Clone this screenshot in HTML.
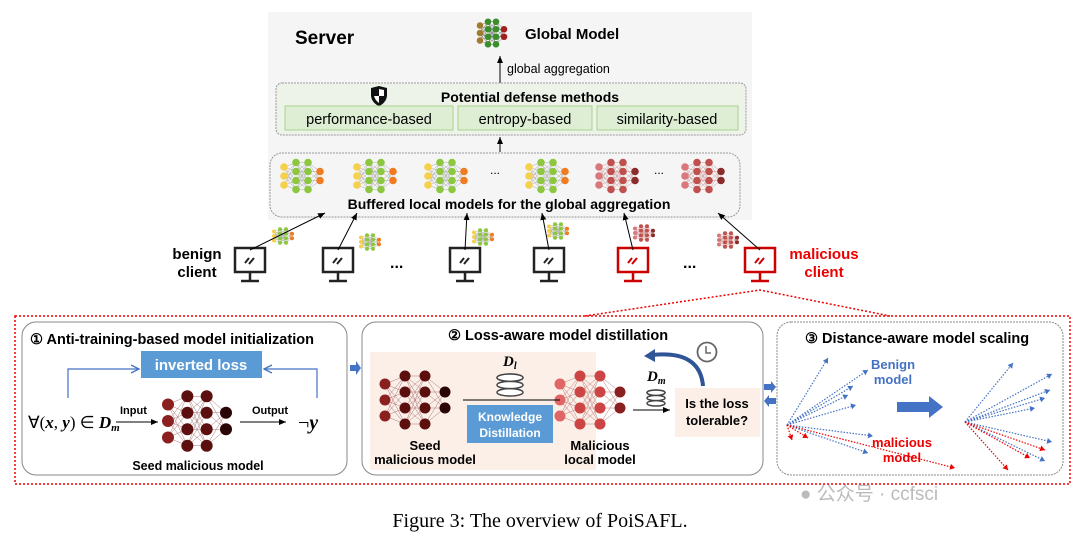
<!DOCTYPE html>
<html><head><meta charset="utf-8"><style>
body{margin:0;background:#fff;width:1080px;height:535px;overflow:hidden}
</style></head><body>
<svg id="s" width="1080" height="535" viewBox="0 0 1080 535" xmlns="http://www.w3.org/2000/svg" font-family="Liberation Sans, sans-serif">
<defs>
<marker id="ak" markerWidth="8" markerHeight="8" refX="7" refY="4" orient="auto" markerUnits="userSpaceOnUse"><path d="M0,1 L7,4 L0,7z" fill="#000"/></marker>
<marker id="ab" markerWidth="10" markerHeight="10" refX="8" refY="5" orient="auto" markerUnits="userSpaceOnUse"><path d="M0,1 L8,5 L0,9" fill="none" stroke="#4472c4" stroke-width="1.3"/></marker>
<marker id="abl" markerWidth="6" markerHeight="6" refX="5" refY="3" orient="auto" markerUnits="userSpaceOnUse"><path d="M0,0 L5,3 L0,6z" fill="#4472c4"/></marker>
<marker id="ar" markerWidth="6" markerHeight="6" refX="5" refY="3" orient="auto" markerUnits="userSpaceOnUse"><path d="M0,0 L5,3 L0,6z" fill="#e00"/></marker>
</defs>
<rect x="268" y="12" width="484" height="208" fill="#f5f5f5"/>
<text x="295" y="44" font-size="19" font-weight="bold">Server</text>
<g id="gm"></g>
<text x="525" y="39" font-size="15" font-weight="bold">Global Model</text>
<line x1="500" y1="88" x2="500" y2="56" stroke="#000" marker-end="url(#ak)"/>
<text x="507" y="73" font-size="12.5">global aggregation</text>
<rect x="276" y="83" width="470" height="52" rx="6" fill="#eef3ea" stroke="#999" stroke-dasharray="2,1"/>
<path d="M371,88 L379,86 L387,88 L387,96 Q386,103 379,106 Q372,103 371,96z" fill="#111"/>
<path d="M379,89 L384,90 L384,96 L379,96z M374,96 L379,96 L379,103 Q375,100 374,96z" fill="#fff"/>
<text x="530" y="102" font-size="14" font-weight="bold" text-anchor="middle">Potential defense methods</text>
<rect x="285" y="106" width="168" height="24" fill="#ddeed4" stroke="#a9d18e"/>
<rect x="458" y="106" width="134" height="24" fill="#ddeed4" stroke="#a9d18e"/>
<rect x="597" y="106" width="141" height="24" fill="#ddeed4" stroke="#a9d18e"/>
<text x="369" y="124" font-size="14.5" text-anchor="middle">performance-based</text>
<text x="525" y="124" font-size="14.5" text-anchor="middle">entropy-based</text>
<text x="667" y="124" font-size="14.5" text-anchor="middle">similarity-based</text>
<line x1="500" y1="152" x2="500" y2="137" stroke="#000" marker-end="url(#ak)"/>
<rect x="270" y="153" width="470" height="64" rx="12" fill="#f5f5f5" stroke="#999" stroke-dasharray="2,1"/>
<g id="buf"></g>
<text x="490" y="174" font-size="12">...</text>
<text x="654" y="174" font-size="12">...</text>
<text x="509" y="209" font-size="14" font-weight="bold" text-anchor="middle">Buffered local models for the global aggregation</text>
<g id="cl"></g>
<text x="197" y="259" font-size="15" font-weight="bold" text-anchor="middle">benign</text>
<text x="197" y="277" font-size="15" font-weight="bold" text-anchor="middle">client</text>
<text x="824" y="259" font-size="15" font-weight="bold" fill="#e00" text-anchor="middle">malicious</text>
<text x="824" y="277" font-size="15" font-weight="bold" fill="#e00" text-anchor="middle">client</text>
<text x="390" y="268" font-size="16" font-weight="bold">...</text>
<text x="683" y="268" font-size="16" font-weight="bold">...</text>
<polyline points="585,316 760,290 890,316" fill="none" stroke="#e00" stroke-width="1.5" stroke-dasharray="2,2"/>
<rect x="15" y="316" width="1055" height="168" fill="none" stroke="#e00" stroke-width="1.5" stroke-dasharray="2,2"/>
<rect x="22" y="322" width="325" height="153" rx="14" fill="#fff" stroke="#888"/>
<text x="30" y="344" font-size="14.5" font-weight="bold">① Anti-training-based model initialization</text>
<rect x="141" y="351" width="121" height="27" fill="#5b9bd5"/>
<text x="201" y="370" font-size="15" font-weight="bold" fill="#fff" text-anchor="middle">inverted loss</text>
<polyline points="68,398 68,369 139,369" fill="none" stroke="#4472c4" stroke-width="1.2" marker-end="url(#ab)"/>
<polyline points="317,398 317,369 264,369" fill="none" stroke="#4472c4" stroke-width="1.2" marker-end="url(#ab)"/>
<text x="28" y="428" font-size="17" style="font-family:'Liberation Serif',serif">∀(<tspan font-style="italic" font-weight="bold">x</tspan>, <tspan font-style="italic" font-weight="bold">y</tspan>) ∈ <tspan font-weight="bold" font-style="italic">D<tspan font-size="11" dy="3">m</tspan></tspan></text>
<text x="120" y="414" font-size="11" font-weight="bold">Input</text>
<line x1="116" y1="422" x2="158" y2="422" stroke="#000" marker-end="url(#ak)"/>
<text x="252" y="414" font-size="11" font-weight="bold">Output</text>
<line x1="240" y1="422" x2="286" y2="422" stroke="#000" marker-end="url(#ak)"/>
<text x="298" y="429" font-size="20" style="font-family:'Liberation Serif',serif">¬<tspan font-style="italic" font-weight="bold">y</tspan></text>
<g id="nn1"></g>
<text x="198" y="470" font-size="12.5" font-weight="bold" text-anchor="middle">Seed malicious model</text>
<path d="M350,365 L356,365 L356,361 L361,368 L356,375 L356,371 L350,371z" fill="#4472c4"/>
<rect x="362" y="322" width="401" height="153" rx="14" fill="#fff" stroke="#888"/>
<text x="448" y="340" font-size="14.5" font-weight="bold">② Loss-aware model distillation</text>
<rect x="370" y="352" width="226" height="118" fill="#fcefe8"/>
<rect x="675" y="388" width="85" height="49" fill="#fcefe8"/>
<g id="nn2"></g>
<text x="425" y="450" font-size="13" font-weight="bold" text-anchor="middle">Seed</text>
<text x="425" y="464" font-size="13" font-weight="bold" text-anchor="middle">malicious model</text>
<text x="600" y="450" font-size="13" font-weight="bold" text-anchor="middle">Malicious</text>
<text x="600" y="464" font-size="13" font-weight="bold" text-anchor="middle">local model</text>
<text x="503" y="366" font-size="15" font-weight="bold" font-style="italic" style="font-family:'Liberation Serif',serif">D<tspan font-size="10" dy="3">l</tspan></text>
<g id="db1"></g>
<line x1="463" y1="400" x2="560" y2="400" stroke="#000"/>
<rect x="467" y="405" width="86" height="38" fill="#5b9bd5"/>
<text x="510" y="421" font-size="12" font-weight="bold" fill="#fff" text-anchor="middle">Knowledge</text>
<text x="510" y="437" font-size="12" font-weight="bold" fill="#fff" text-anchor="middle">Distillation</text>
<text x="647" y="381" font-size="15" font-weight="bold" font-style="italic" style="font-family:'Liberation Serif',serif">D<tspan font-size="10" dy="3">m</tspan></text>
<g id="db2"></g>
<line x1="633" y1="410" x2="670" y2="410" stroke="#000" marker-end="url(#ak)"/>
<text x="717" y="408" font-size="13" font-weight="bold" text-anchor="middle">Is the loss</text>
<text x="717" y="425" font-size="13" font-weight="bold" text-anchor="middle">tolerable?</text>
<path d="M703,386 Q700,350 652,355" fill="none" stroke="#2f5597" stroke-width="4"/>
<path d="M644,356 L655,349 L655,362z" fill="#2f5597"/>
<circle cx="707" cy="352" r="9.5" fill="#fff" stroke="#666" stroke-width="1.8"/>
<polyline points="706,346 706,353 711,353" fill="none" stroke="#666" stroke-width="1.5"/>
<path d="M764,384 L771,384 L771,381 L776,387 L771,393 L771,390 L764,390z" fill="#4472c4"/>
<path d="M776,398 L769,398 L769,395 L764,401 L769,407 L769,404 L776,404z" fill="#4472c4"/>
<rect x="777" y="322" width="286" height="153" rx="14" fill="#fff" stroke="#888" stroke-dasharray="2,1"/>
<text x="805" y="343" font-size="14.5" font-weight="bold">③ Distance-aware model scaling</text>
<g id="fan"></g>
<text x="893" y="369" font-size="13" font-weight="bold" fill="#4472c4" text-anchor="middle">Benign</text>
<text x="893" y="384" font-size="13" font-weight="bold" fill="#4472c4" text-anchor="middle">model</text>
<text x="902" y="447" font-size="13" font-weight="bold" fill="#e00" text-anchor="middle">malicious</text>
<text x="902" y="462" font-size="13" font-weight="bold" fill="#e00" text-anchor="middle">model</text>
<path d="M897,402 L929,402 L929,396 L943,407 L929,418 L929,412 L897,412z" fill="#4472c4"/>
<text x="800" y="500" font-size="19" fill="#bbb" style="font-family:'Liberation Sans','Noto Sans CJK SC',sans-serif">● 公众号 · ccfsci</text>
<text x="540" y="527" font-size="20" text-anchor="middle" style="font-family:'Liberation Serif',serif">Figure 3: The overview of PoiSAFL.</text>
</svg>
<script>
const NS="http://www.w3.org/2000/svg";
function el(p,t,a){const e=document.createElementNS(NS,t);for(const k in a)e.setAttribute(k,a[k]);document.getElementById(p).appendChild(e);return e;}
function nn(p,x,y,w,h,cols,r){
 const layers=[3,4,4,2],L=[];
 for(let i=0;i<4;i++){const n=layers[i],xs=x+w*i/3,pts=[];const sp=h/4;
  for(let j=0;j<n;j++)pts.push([xs,y+h/2+(j-(n-1)/2)*sp]);L.push(pts);}
 for(let i=0;i<3;i++)for(const a of L[i])for(const b of L[i+1])el(p,'line',{x1:a[0],y1:a[1],x2:b[0],y2:b[1],stroke:cols[4]||'#999','stroke-width':0.5});
 for(let i=0;i<4;i++)for(const q of L[i])el(p,'circle',{cx:q[0],cy:q[1],r:r,fill:cols[i]});
}
const G=['#f5d04a','#8dc63f','#8dc63f','#f07b20','#aaa'],R=['#d9787a','#c0504d','#c0504d','#8b2c2c','#c99'];
nn('gm',480,18,24,30,['#a07a30','#3a8f2b','#3a8f2b','#a02020','#777'],3.3);
[301,374,445,546].forEach(x=>nn('buf',x-17,158,36,36,G,3.8));
[616,702].forEach(x=>nn('buf',x-17,158,36,36,R,3.8));
[[283,236,G],[370,242,G],[483,237,G],[558,231,G],[644,233,R],[728,240,R]].forEach(a=>nn('cl',a[0]-9,a[1]-9,18,18,a[2],2));
[[250,'#222'],[338,'#222'],[465,'#222'],[549,'#222'],[633,'#c00'],[760,'#c00']].forEach(([x,c])=>{
 el('cl','rect',{x:x-15,y:248,width:30,height:24,fill:'#fff',stroke:c,'stroke-width':2.5});
 el('cl','line',{x1:x,y1:272,x2:x,y2:280,stroke:c,'stroke-width':2.5});
 el('cl','line',{x1:x-9,y1:281,x2:x+9,y2:281,stroke:c,'stroke-width':2.5});
 el('cl','path',{d:`M${x-5},${263} l4,-5 M${x-1},${264} l5,-6`,stroke:c,'stroke-width':2});
});
[[250,250,325,213],[338,250,357,213],[465,250,467,213],[549,250,542,213],[633,250,624,213],[760,250,718,213]].forEach(([a,b,c,d])=>el('cl','line',{x1:a,y1:b,x2:c,y2:d,stroke:'#000','marker-end':'url(#ak)'}));
nn('nn1',168,388,58,66,['#8b2020','#5c0f0f','#5c0f0f','#2a0505','#a77'],6);
nn('nn2',385,368,60,64,['#8b2020','#5c0f0f','#5c0f0f','#2a0505','#a77'],5.5);
nn('nn2',560,368,60,64,['#e06666','#cc4444','#cc4444','#8b2020','#b77'],5.5);
function db(p,x,y,w,h){for(let i=0;i<3;i++)el(p,'rect',{x:x-w/2,y:y+i*h/3,width:w,height:h/3,rx:w/2,ry:h/6,fill:'#fff',stroke:'#444','stroke-width':1.5});el(p,'ellipse',{cx:x,cy:y+h/6,rx:w/2,ry:h/6,fill:'#fff',stroke:'#444','stroke-width':1.5});}
db('db1',510,374,26,22);db('db2',656,390,18,16);
function fan(ox,oy,bl,rd){bl.forEach(([x,y])=>el('fan','line',{x1:ox,y1:oy,x2:x,y2:y,stroke:'#4472c4','stroke-width':1.2,'stroke-dasharray':'1.5,1.5','marker-end':'url(#abl)'}));
 rd.forEach(([x,y])=>el('fan','line',{x1:ox,y1:oy,x2:x,y2:y,stroke:'#e00','stroke-width':1.2,'stroke-dasharray':'1.5,1.5','marker-end':'url(#ar)'}));}
fan(787,425,[[828,358],[868,370],[853,386],[848,395],[856,405],[873,436],[868,453]],[[792,440],[808,438],[955,468]]);
fan(965,422,[[1013,363],[1052,374],[1050,390],[1045,398],[1035,408],[1052,442],[1045,461]],[[1045,450],[1030,458],[1008,470]]);
</script>
</body></html>
